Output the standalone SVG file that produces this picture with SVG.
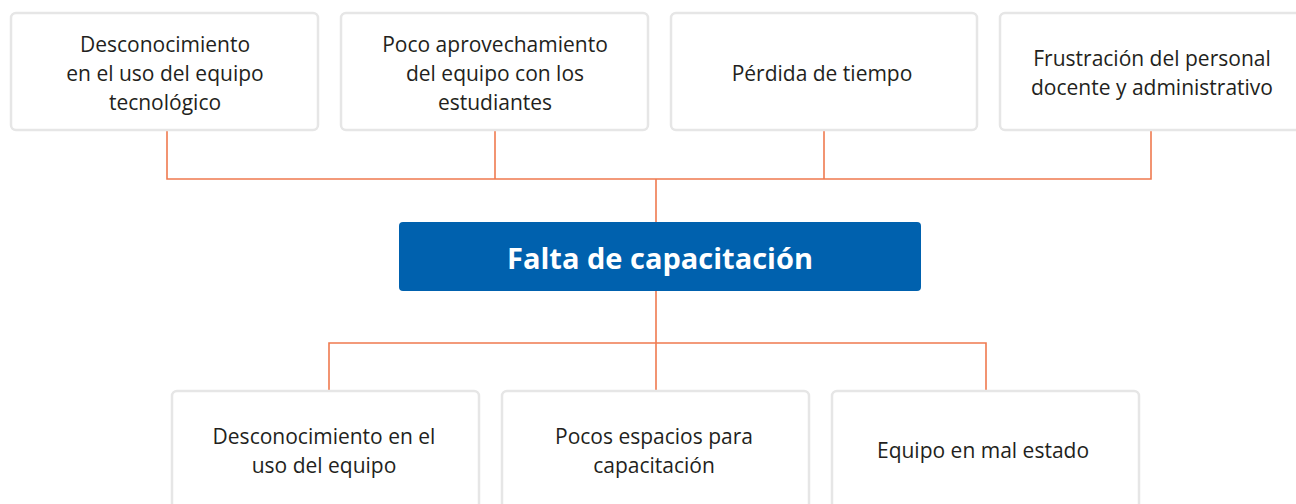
<svg xmlns="http://www.w3.org/2000/svg" width="1296" height="504" viewBox="0 0 1296 504">
<style>
.box{fill:#ffffff;stroke:#e6e6e6;stroke-width:2.5}
.t{font-family:"Open Sans","Liberation Sans",sans-serif;font-size:21px;fill:#231f20;text-anchor:middle}
.title{font-family:"Open Sans","Liberation Sans",sans-serif;font-size:29px;font-weight:bold;fill:#ffffff;text-anchor:middle}
.conn{fill:none;stroke:#ef7a4f;stroke-width:1.6}
</style>
<rect width="1296" height="504" fill="#ffffff"/>
<g id="connectors">
<polyline class="conn" points="167,130 167,179 1151,179 1151,130"/>
<line class="conn" x1="495" y1="130" x2="495" y2="179"/>
<line class="conn" x1="824" y1="130" x2="824" y2="179"/>
<line class="conn" x1="656" y1="179" x2="656" y2="222"/>
<line class="conn" x1="656" y1="291" x2="656" y2="390"/>
<polyline class="conn" points="329,390 329,343 986,343 986,390"/>
</g>
<g id="effect1">
<rect class="box" x="11" y="13" width="307" height="117" rx="5"/>
<text class="t" x="165" y="52">Desconocimiento</text>
<text class="t" x="165" y="81">en el uso del equipo</text>
<text class="t" x="165" y="110">tecnológico</text>
</g>
<g id="effect2">
<rect class="box" x="341" y="13" width="307" height="117" rx="5"/>
<text class="t" x="495" y="52">Poco aprovechamiento</text>
<text class="t" x="495" y="81">del equipo con los</text>
<text class="t" x="495" y="110">estudiantes</text>
</g>
<g id="effect3">
<rect class="box" x="671" y="13" width="306" height="117" rx="5"/>
<text class="t" x="822" y="81">Pérdida de tiempo</text>
</g>
<g id="effect4">
<rect class="box" x="1000" y="13" width="307" height="117" rx="5"/>
<text class="t" x="1152" y="66">Frustración del personal</text>
<text class="t" x="1152" y="95">docente y administrativo</text>
</g>
<g id="problem">
<rect x="399" y="222" width="522" height="69" rx="4" fill="#0061ae"/>
<text class="title" x="660" y="269">Falta de capacitación</text>
</g>
<g id="cause1">
<rect class="box" x="172" y="391" width="307" height="130" rx="5"/>
<text class="t" x="324" y="444">Desconocimiento en el</text>
<text class="t" x="324" y="473">uso del equipo</text>
</g>
<g id="cause2">
<rect class="box" x="502" y="391" width="307" height="130" rx="5"/>
<text class="t" x="654" y="444">Pocos espacios para</text>
<text class="t" x="654" y="473">capacitación</text>
</g>
<g id="cause3">
<rect class="box" x="832" y="391" width="307" height="130" rx="5"/>
<text class="t" x="983" y="458">Equipo en mal estado</text>
</g>
</svg>
